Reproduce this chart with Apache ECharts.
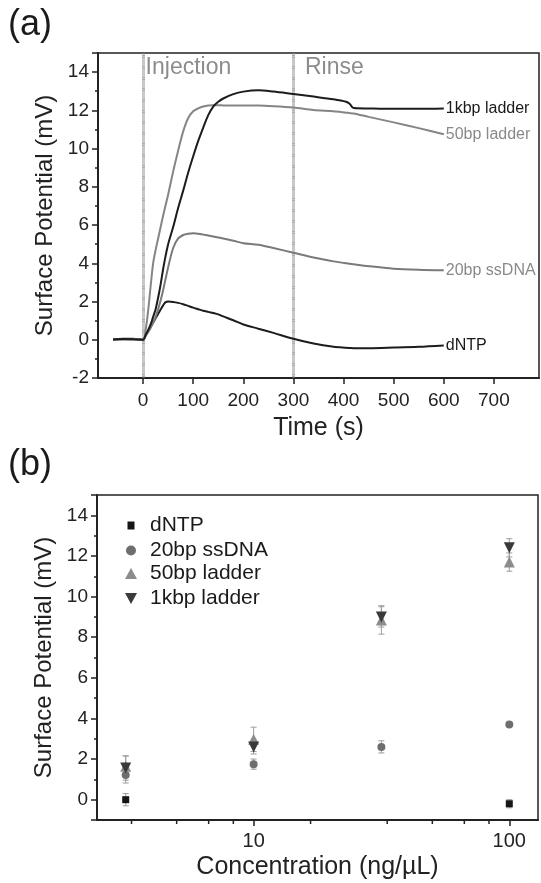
<!DOCTYPE html>
<html><head><meta charset="utf-8">
<script src="https://cdn.jsdelivr.net/npm/echarts@6/dist/echarts.min.js"></script>
<style>html,body{margin:0;padding:0;background:#fff}#c{width:541px;height:883px}</style>
</head><body><div id="c"></div>
<script>
const FONT = '"Liberation Sans", Arial, sans-serif';

// ---------- Panel (a): surface potential vs time ----------
const TIME = [-60,-40,-20,0,5,10,15,20,25,30,35,40,45,50,60,70,80,90,100,110,120,130,140,150,160,180,200,230,260,300,340,380,405,412,420,450,500,550,600];
const TRACE_DNTP = [0.02,0.05,0.05,0.0,0.22,0.45,0.68,0.9,1.12,1.35,1.58,1.8,1.97,2.0,1.98,1.93,1.86,1.77,1.68,1.6,1.52,1.46,1.4,1.33,1.22,1.02,0.8,0.58,0.36,0.05,-0.2,-0.37,-0.42,-0.43,-0.44,-0.44,-0.41,-0.37,-0.3];
const TRACE_20BP = [0.0,0.02,0.03,0.0,0.2,0.4,0.62,0.9,1.2,1.6,2.05,2.6,3.2,3.8,4.8,5.3,5.48,5.55,5.57,5.55,5.5,5.45,5.4,5.35,5.3,5.18,5.05,4.97,4.8,4.55,4.3,4.1,4.0,3.98,3.95,3.85,3.72,3.66,3.63];
const TRACE_50BP = [0.0,0.03,0.02,0.0,0.5,1.5,2.8,4.0,4.7,5.3,5.9,6.5,7.05,7.6,8.8,9.9,10.9,11.6,11.95,12.1,12.2,12.25,12.27,12.27,12.26,12.25,12.25,12.25,12.22,12.15,12.02,11.95,11.88,11.86,11.84,11.66,11.37,11.07,10.75];
const TRACE_1KBP = [0.02,0.04,0.03,0.0,0.25,0.5,0.8,1.2,1.6,2.2,2.9,3.7,4.4,5.0,5.9,6.9,7.8,8.75,9.6,10.4,11.1,11.75,12.2,12.45,12.62,12.85,12.98,13.05,12.98,12.85,12.72,12.58,12.45,12.35,12.12,12.1,12.08,12.08,12.1];
const TRACE_LABELS = ['dNTP','20bp ssDNA','50bp ladder','1kbp ladder'];
const EVENT_TIMES = [0, 300];
const EVENT_LABELS = ['Injection', 'Rinse'];

// ---------- Panel (b): surface potential vs concentration ----------
const CONC = [3.16, 10, 31.6, 100];
const DNTP_V = [0.0, null, null, -0.2];
const DNTP_E = [0.3, 0, 0, 0.2];
const SS20_V = [1.22, 1.75, 2.6, 3.7];
const SS20_E = [0.4, 0.25, 0.3, 0.05];
const LAD50_V = [1.65, 2.97, 8.85, 11.7];
const LAD50_E = [0.5, 0.6, 0.7, 0.45];
const KBP1_V = [1.56, 2.6, 9.0, 12.4];
const KBP1_E = [0.6, 0.35, 0.5, 0.45];
const CONC_MINOR_TICKS = [3.33, 5, 6.67, 8.33, 16.7, 33.3, 50, 66.7, 83.3];
const SCATTER_NAMES = ['dNTP','20bp ssDNA','50bp ladder','1kbp ladder'];

const YA_MIN = -2, YA_MAX = 15, YB_MIN = -1, YB_MAX = 15;
const pairs = (xs, ys) => xs.map((x, i) => [x, ys[i]]).filter(d => d[1] != null);
const triples = (xs, ys, es) => xs.map((x, i) => [x, ys[i], es[i]]).filter(d => d[1] != null);

const chart = echarts.init(document.getElementById('c'), null, {renderer: 'canvas'});

function errRender(params, api) {
  const x = api.value(0), y = api.value(1), e = api.value(2);
  const t = api.coord([x, y + e]), b = api.coord([x, y - e]);
  const w = 3, st = {stroke: '#9c9c9c', lineWidth: 1};
  return {type: 'group', children: [
    {type: 'line', shape: {x1: t[0], y1: t[1], x2: b[0], y2: b[1]}, style: st},
    {type: 'line', shape: {x1: t[0] - w, y1: t[1], x2: t[0] + w, y2: t[1]}, style: st},
    {type: 'line', shape: {x1: b[0] - w, y1: b[1], x2: b[0] + w, y2: b[1]}, style: st}
  ]};
}
function minorTickRender(params, api) {
  const p = api.coord([api.value(0), YB_MIN]);
  return {type: 'line', shape: {x1: p[0], y1: p[1], x2: p[0], y2: p[1] + 4}, style: {stroke: '#222', lineWidth: 1.5}};
}

const axisLineS = {show: true, onZero: false, lineStyle: {color: '#222', width: 2}};
const labelS = {color: '#222', fontSize: 19, fontFamily: FONT};
const nameS = {color: '#222', fontSize: 24, fontFamily: FONT};
const evenOnly = v => (Math.round(v) % 2 === 0 && Math.abs(v - Math.round(v)) < 1e-6) ? String(Math.round(v)) : '';

const scatterColors = ['#151515', '#6e6e6e', '#8c8c8c', '#3a3a3a'];
const scatterSymbols = ['rect', 'circle', 'triangle', 'path://M0,0 L10,0 L5,9 Z'];
const scatterSizes = [7, 8, 11, 11];
const scatterVals = [DNTP_V, SS20_V, LAD50_V, KBP1_V];
const scatterErrs = [DNTP_E, SS20_E, LAD50_E, KBP1_E];
const legendIcon = [[7, 8], [10, 10], [12, 11], [12, 11]];
const legendTops = [515, 540, 563, 588];

const lineColors = ['#1c1c1c', '#7a7a7a', '#858585', '#1c1c1c'];
const labelColors = ['#1a1a1a', '#8a8a8a', '#8a8a8a', '#1a1a1a'];
const traces = [TRACE_DNTP, TRACE_20BP, TRACE_50BP, TRACE_1KBP];

const series = [];
scatterVals.forEach((vals, i) => {
  series.push({
    type: 'scatter', name: SCATTER_NAMES[i], xAxisIndex: 1, yAxisIndex: 2,
    data: pairs(CONC, vals), symbol: scatterSymbols[i], symbolSize: scatterSizes[i],
    itemStyle: {color: scatterColors[i], opacity: 1}, z: 5, silent: true
  });
});
scatterVals.forEach((vals, i) => {
  series.push({
    type: 'custom', name: 'err' + i, xAxisIndex: 1, yAxisIndex: 2,
    data: triples(CONC, vals, scatterErrs[i]), dimensions: ['x', 'y', 'e'],
    encode: {x: 'x', y: 'y'}, renderItem: errRender, z: 3, silent: true
  });
});
series.push({
  type: 'custom', name: 'minorTicks', xAxisIndex: 1, yAxisIndex: 2, clip: false,
  data: CONC_MINOR_TICKS.map(v => [v, YB_MIN]), renderItem: minorTickRender, silent: true, z: 10
});
traces.forEach((tr, i) => {
  const s = {
    type: 'line', name: 'trace-' + TRACE_LABELS[i], xAxisIndex: 0, yAxisIndex: 0,
    data: pairs(TIME, tr), showSymbol: false, symbol: 'none', smooth: 0.3,
    lineStyle: {color: lineColors[i], width: 2}, itemStyle: {color: lineColors[i]},
    z: 4, silent: true,
    endLabel: {show: true, formatter: TRACE_LABELS[i], color: labelColors[i], fontSize: 16, fontFamily: FONT, distance: 2}
  };
  if (i === 0) {
    s.markLine = {
      silent: true, symbol: 'none', animation: false, z: 1,
      label: {show: false},
      lineStyle: {color: '#929292', type: [0.6, 0.5], width: 3, opacity: 1},
      data: EVENT_TIMES.map(t => ({xAxis: t}))
    };
    s.markPoint = {
      silent: true, symbol: 'circle', symbolSize: 1, itemStyle: {color: 'rgba(0,0,0,0)'}, animation: false,
      label: {show: true, position: 'right', distance: 2, color: '#8c8c8c', fontSize: 23, fontFamily: FONT},
      data: EVENT_TIMES.map((t, k) => ({coord: [t, 14.25], label: {formatter: EVENT_LABELS[k], offset: [k === 0 ? 0 : 9, 0]}}))
    };
  }
  series.push(s);
});

const legends = SCATTER_NAMES.map((nm, i) => ({
  show: true, orient: 'vertical', padding: 0,
  left: 131 - legendIcon[i][0] / 2, top: legendTops[i],
  itemWidth: legendIcon[i][0], itemHeight: legendIcon[i][1], itemGap: 0,
  data: [nm], selectedMode: false,
  textStyle: {color: '#1a1a1a', fontSize: 21, fontFamily: FONT, padding: [0, 0, 0, 14 - legendIcon[i][0] / 2]}
}));

chart.setOption({
  animation: false,
  backgroundColor: '#fff',
  textStyle: {fontFamily: FONT},
  grid: [
    {left: 98, top: 53, width: 441, height: 325, show: true, borderColor: '#222', borderWidth: 1.5, backgroundColor: 'transparent'},
    {left: 97, top: 495, width: 441, height: 325, show: true, borderColor: '#222', borderWidth: 1.5, backgroundColor: 'transparent'}
  ],
  xAxis: [
    {type: 'value', gridIndex: 0, min: -90, max: 790, splitNumber: 8,
     axisLine: axisLineS, axisTick: {show: true, length: 6, lineStyle: {color: '#222', width: 1.5}},
     splitLine: {show: false},
     axisLabel: Object.assign({showMinLabel: false, showMaxLabel: false, margin: 13}, labelS),
     name: 'Time (s)', nameLocation: 'middle', nameGap: 38, nameTextStyle: Object.assign({}, nameS, {fontSize: 25})},
    {type: 'log', logBase: 10, gridIndex: 1, min: 2.44, max: 129.5,
     axisLine: axisLineS, axisTick: {show: true, length: 6, lineStyle: {color: '#222', width: 1.5}},
     splitLine: {show: false}, minorTick: {show: false}, minorSplitLine: {show: false},
     axisLabel: Object.assign({showMinLabel: false, showMaxLabel: false, margin: 11}, labelS, {fontSize: 20}),
     name: 'Concentration (ng/µL)', nameLocation: 'middle', nameGap: 35, nameTextStyle: Object.assign({}, nameS, {fontSize: 25})}
  ],
  yAxis: [
    {type: 'value', gridIndex: 0, min: YA_MIN, max: YA_MAX, interval: 1,
     axisLine: axisLineS, axisTick: {show: true, length: 3, lineStyle: {color: '#222', width: 1.5}},
     splitLine: {show: false},
     axisLabel: Object.assign({formatter: evenOnly, margin: 9}, labelS),
     name: 'Surface Potential (mV)', nameLocation: 'middle', nameGap: 40, nameTextStyle: nameS},
    {type: 'value', gridIndex: 0, min: YA_MIN, max: YA_MAX, interval: 2, position: 'left', offset: 0,
     axisLine: {show: false, onZero: false}, axisTick: {show: true, length: 6, lineStyle: {color: '#222', width: 1.5}},
     splitLine: {show: false}, axisLabel: {show: false}},
    {type: 'value', gridIndex: 1, min: YB_MIN, max: YB_MAX, interval: 1,
     axisLine: axisLineS, axisTick: {show: true, length: 3, lineStyle: {color: '#222', width: 1.5}},
     splitLine: {show: false},
     axisLabel: Object.assign({formatter: evenOnly, margin: 9}, labelS),
     name: 'Surface Potential (mV)', nameLocation: 'middle', nameGap: 40, nameTextStyle: nameS},
    {type: 'value', gridIndex: 1, min: YB_MIN, max: YB_MAX, splitNumber: 8, position: 'left', offset: 0,
     axisLine: {show: false, onZero: false}, axisTick: {show: true, length: 6, lineStyle: {color: '#222', width: 1.5}},
     splitLine: {show: false}, axisLabel: {show: false}}
  ],
  legend: legends,
  graphic: [
    {type: 'text', left: 8, top: 7, style: {text: '(a)', fontSize: 36, fontFamily: FONT, fill: '#1a1a1a'}},
    {type: 'text', left: 8, top: 447, style: {text: '(b)', fontSize: 36, fontFamily: FONT, fill: '#1a1a1a'}}
  ],
  series: series
});
</script></body></html>
